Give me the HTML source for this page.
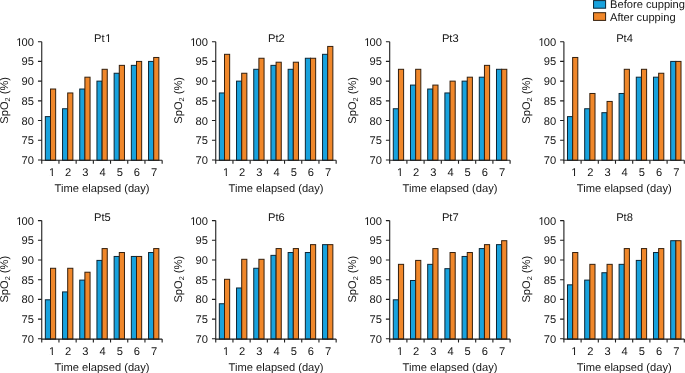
<!DOCTYPE html>
<html><head><meta charset="utf-8"><style>
html,body{margin:0;padding:0;background:#fff;}
body{width:685px;height:373px;overflow:hidden;}
svg{display:block;will-change:transform;filter:blur(0.3px);}
text{font-family:"Liberation Sans",sans-serif;font-size:11.15px;fill:#161616;text-rendering:geometricPrecision;}
</style></head><body>
<svg width="685" height="373" viewBox="0 0 685 373">
<rect x="45.34" y="116.62" width="5.16" height="43.68" fill="#18a2dd" stroke="#0c2636" stroke-width="1"/>
<rect x="50.5" y="89.02" width="5.16" height="71.28" fill="#f0872a" stroke="#35200e" stroke-width="1"/>
<rect x="62.54" y="108.74" width="5.16" height="51.56" fill="#18a2dd" stroke="#0c2636" stroke-width="1"/>
<rect x="67.7" y="92.96" width="5.16" height="67.34" fill="#f0872a" stroke="#35200e" stroke-width="1"/>
<rect x="79.74" y="89.02" width="5.16" height="71.28" fill="#18a2dd" stroke="#0c2636" stroke-width="1"/>
<rect x="84.9" y="77.19" width="5.16" height="83.11" fill="#f0872a" stroke="#35200e" stroke-width="1"/>
<rect x="96.94" y="81.13" width="5.16" height="79.17" fill="#18a2dd" stroke="#0c2636" stroke-width="1"/>
<rect x="102.1" y="69.3" width="5.16" height="91" fill="#f0872a" stroke="#35200e" stroke-width="1"/>
<rect x="114.14" y="73.25" width="5.16" height="87.05" fill="#18a2dd" stroke="#0c2636" stroke-width="1"/>
<rect x="119.3" y="65.36" width="5.16" height="94.94" fill="#f0872a" stroke="#35200e" stroke-width="1"/>
<rect x="131.34" y="65.36" width="5.16" height="94.94" fill="#18a2dd" stroke="#0c2636" stroke-width="1"/>
<rect x="136.5" y="61.42" width="5.16" height="98.88" fill="#f0872a" stroke="#35200e" stroke-width="1"/>
<rect x="148.54" y="61.42" width="5.16" height="98.88" fill="#18a2dd" stroke="#0c2636" stroke-width="1"/>
<rect x="153.7" y="57.47" width="5.16" height="102.83" fill="#f0872a" stroke="#35200e" stroke-width="1"/>
<path d="M41.75 41.7V160.3H162.15" fill="none" stroke="#1e1e1e" stroke-width="1.1"/>
<text x="33.95" y="164" text-anchor="end">70</text>
<text x="33.95" y="144" text-anchor="end">75</text>
<text x="33.95" y="125" text-anchor="end">80</text>
<text x="33.95" y="105" text-anchor="end">85</text>
<text x="33.95" y="85" text-anchor="end">90</text>
<text x="33.95" y="65" text-anchor="end">95</text>
<text x="16.26 21.54 27.75" y="46">100</text>
<path d="M37.95 160H41.75M37.95 140.28H41.75M37.95 120.57H41.75M37.95 100.85H41.75M37.95 81.13H41.75M37.95 61.42H41.75M37.95 41.7H41.75M41.75 160.3V163.8M58.95 160.3V163.8M76.15 160.3V163.8M93.35 160.3V163.8M110.55 160.3V163.8M127.75 160.3V163.8M144.95 160.3V163.8M162.15 160.3V163.8" fill="none" stroke="#1e1e1e" stroke-width="1.1"/>
<text x="52.15" y="176" text-anchor="middle">1</text>
<text x="68.15" y="176" text-anchor="middle">2</text>
<text x="85.35" y="176" text-anchor="middle">3</text>
<text x="102.55" y="176" text-anchor="middle">4</text>
<text x="119.75" y="176" text-anchor="middle">5</text>
<text x="136.95" y="176" text-anchor="middle">6</text>
<text x="154.15" y="176" text-anchor="middle">7</text>
<text x="102.7" y="42" text-anchor="middle">Pt<tspan dx="0.7">1</tspan></text>
<text x="102.1" y="192" text-anchor="middle">Time elapsed (day)</text>
<text transform="translate(7.9 100.35) rotate(-90)" text-anchor="middle">SpO<tspan font-size="7.2" dy="2.4">2</tspan><tspan dy="-2.4"> (%)</tspan></text>
<rect x="219.34" y="92.96" width="5.16" height="67.34" fill="#18a2dd" stroke="#0c2636" stroke-width="1"/>
<rect x="224.5" y="54.32" width="5.16" height="105.98" fill="#f0872a" stroke="#35200e" stroke-width="1"/>
<rect x="236.54" y="81.13" width="5.16" height="79.17" fill="#18a2dd" stroke="#0c2636" stroke-width="1"/>
<rect x="241.7" y="73.25" width="5.16" height="87.05" fill="#f0872a" stroke="#35200e" stroke-width="1"/>
<rect x="253.74" y="69.3" width="5.16" height="91" fill="#18a2dd" stroke="#0c2636" stroke-width="1"/>
<rect x="258.9" y="58.26" width="5.16" height="102.04" fill="#f0872a" stroke="#35200e" stroke-width="1"/>
<rect x="270.94" y="65.36" width="5.16" height="94.94" fill="#18a2dd" stroke="#0c2636" stroke-width="1"/>
<rect x="276.1" y="62.21" width="5.16" height="98.09" fill="#f0872a" stroke="#35200e" stroke-width="1"/>
<rect x="288.14" y="69.3" width="5.16" height="91" fill="#18a2dd" stroke="#0c2636" stroke-width="1"/>
<rect x="293.3" y="62.21" width="5.16" height="98.09" fill="#f0872a" stroke="#35200e" stroke-width="1"/>
<rect x="305.34" y="58.26" width="5.16" height="102.04" fill="#18a2dd" stroke="#0c2636" stroke-width="1"/>
<rect x="310.5" y="58.26" width="5.16" height="102.04" fill="#f0872a" stroke="#35200e" stroke-width="1"/>
<rect x="322.54" y="54.32" width="5.16" height="105.98" fill="#18a2dd" stroke="#0c2636" stroke-width="1"/>
<rect x="327.7" y="46.43" width="5.16" height="113.87" fill="#f0872a" stroke="#35200e" stroke-width="1"/>
<path d="M215.75 41.7V160.3H336.15" fill="none" stroke="#1e1e1e" stroke-width="1.1"/>
<text x="207.95" y="164" text-anchor="end">70</text>
<text x="207.95" y="144" text-anchor="end">75</text>
<text x="207.95" y="125" text-anchor="end">80</text>
<text x="207.95" y="105" text-anchor="end">85</text>
<text x="207.95" y="85" text-anchor="end">90</text>
<text x="207.95" y="65" text-anchor="end">95</text>
<text x="190.26 195.54 201.75" y="46">100</text>
<path d="M211.95 160H215.75M211.95 140.28H215.75M211.95 120.57H215.75M211.95 100.85H215.75M211.95 81.13H215.75M211.95 61.42H215.75M211.95 41.7H215.75M215.75 160.3V163.8M232.95 160.3V163.8M250.15 160.3V163.8M267.35 160.3V163.8M284.55 160.3V163.8M301.75 160.3V163.8M318.95 160.3V163.8M336.15 160.3V163.8" fill="none" stroke="#1e1e1e" stroke-width="1.1"/>
<text x="226.15" y="176" text-anchor="middle">1</text>
<text x="242.15" y="176" text-anchor="middle">2</text>
<text x="259.35" y="176" text-anchor="middle">3</text>
<text x="276.55" y="176" text-anchor="middle">4</text>
<text x="293.75" y="176" text-anchor="middle">5</text>
<text x="310.95" y="176" text-anchor="middle">6</text>
<text x="328.15" y="176" text-anchor="middle">7</text>
<text x="276.35" y="42" text-anchor="middle">Pt2</text>
<text x="276.1" y="192" text-anchor="middle">Time elapsed (day)</text>
<text transform="translate(181.9 100.35) rotate(-90)" text-anchor="middle">SpO<tspan font-size="7.2" dy="2.4">2</tspan><tspan dy="-2.4"> (%)</tspan></text>
<rect x="393.29" y="108.74" width="5.16" height="51.56" fill="#18a2dd" stroke="#0c2636" stroke-width="1"/>
<rect x="398.45" y="69.3" width="5.16" height="91" fill="#f0872a" stroke="#35200e" stroke-width="1"/>
<rect x="410.49" y="85.08" width="5.16" height="75.22" fill="#18a2dd" stroke="#0c2636" stroke-width="1"/>
<rect x="415.65" y="69.3" width="5.16" height="91" fill="#f0872a" stroke="#35200e" stroke-width="1"/>
<rect x="427.69" y="89.02" width="5.16" height="71.28" fill="#18a2dd" stroke="#0c2636" stroke-width="1"/>
<rect x="432.85" y="85.08" width="5.16" height="75.22" fill="#f0872a" stroke="#35200e" stroke-width="1"/>
<rect x="444.89" y="92.96" width="5.16" height="67.34" fill="#18a2dd" stroke="#0c2636" stroke-width="1"/>
<rect x="450.05" y="81.13" width="5.16" height="79.17" fill="#f0872a" stroke="#35200e" stroke-width="1"/>
<rect x="462.09" y="81.13" width="5.16" height="79.17" fill="#18a2dd" stroke="#0c2636" stroke-width="1"/>
<rect x="467.25" y="77.19" width="5.16" height="83.11" fill="#f0872a" stroke="#35200e" stroke-width="1"/>
<rect x="479.29" y="77.19" width="5.16" height="83.11" fill="#18a2dd" stroke="#0c2636" stroke-width="1"/>
<rect x="484.45" y="65.36" width="5.16" height="94.94" fill="#f0872a" stroke="#35200e" stroke-width="1"/>
<rect x="496.49" y="69.3" width="5.16" height="91" fill="#18a2dd" stroke="#0c2636" stroke-width="1"/>
<rect x="501.65" y="69.3" width="5.16" height="91" fill="#f0872a" stroke="#35200e" stroke-width="1"/>
<path d="M389.7 41.7V160.3H510.1" fill="none" stroke="#1e1e1e" stroke-width="1.1"/>
<text x="381.9" y="164" text-anchor="end">70</text>
<text x="381.9" y="144" text-anchor="end">75</text>
<text x="381.9" y="125" text-anchor="end">80</text>
<text x="381.9" y="105" text-anchor="end">85</text>
<text x="381.9" y="85" text-anchor="end">90</text>
<text x="381.9" y="65" text-anchor="end">95</text>
<text x="364.21 369.49 375.7" y="46">100</text>
<path d="M385.9 160H389.7M385.9 140.28H389.7M385.9 120.57H389.7M385.9 100.85H389.7M385.9 81.13H389.7M385.9 61.42H389.7M385.9 41.7H389.7M389.7 160.3V163.8M406.9 160.3V163.8M424.1 160.3V163.8M441.3 160.3V163.8M458.5 160.3V163.8M475.7 160.3V163.8M492.9 160.3V163.8M510.1 160.3V163.8" fill="none" stroke="#1e1e1e" stroke-width="1.1"/>
<text x="400.1" y="176" text-anchor="middle">1</text>
<text x="416.1" y="176" text-anchor="middle">2</text>
<text x="433.3" y="176" text-anchor="middle">3</text>
<text x="450.5" y="176" text-anchor="middle">4</text>
<text x="467.7" y="176" text-anchor="middle">5</text>
<text x="484.9" y="176" text-anchor="middle">6</text>
<text x="502.1" y="176" text-anchor="middle">7</text>
<text x="450.3" y="42" text-anchor="middle">Pt3</text>
<text x="450.05" y="192" text-anchor="middle">Time elapsed (day)</text>
<text transform="translate(355.9 100.35) rotate(-90)" text-anchor="middle">SpO<tspan font-size="7.2" dy="2.4">2</tspan><tspan dy="-2.4"> (%)</tspan></text>
<rect x="567.49" y="116.62" width="5.16" height="43.68" fill="#18a2dd" stroke="#0c2636" stroke-width="1"/>
<rect x="572.65" y="57.47" width="5.16" height="102.83" fill="#f0872a" stroke="#35200e" stroke-width="1"/>
<rect x="584.69" y="108.74" width="5.16" height="51.56" fill="#18a2dd" stroke="#0c2636" stroke-width="1"/>
<rect x="589.85" y="93.48" width="5.16" height="66.82" fill="#f0872a" stroke="#35200e" stroke-width="1"/>
<rect x="601.89" y="112.68" width="5.16" height="47.62" fill="#18a2dd" stroke="#0c2636" stroke-width="1"/>
<rect x="607.05" y="101.44" width="5.16" height="58.86" fill="#f0872a" stroke="#35200e" stroke-width="1"/>
<rect x="619.09" y="93.48" width="5.16" height="66.82" fill="#18a2dd" stroke="#0c2636" stroke-width="1"/>
<rect x="624.25" y="69.3" width="5.16" height="91" fill="#f0872a" stroke="#35200e" stroke-width="1"/>
<rect x="636.29" y="77.19" width="5.16" height="83.11" fill="#18a2dd" stroke="#0c2636" stroke-width="1"/>
<rect x="641.45" y="69.3" width="5.16" height="91" fill="#f0872a" stroke="#35200e" stroke-width="1"/>
<rect x="653.49" y="77.19" width="5.16" height="83.11" fill="#18a2dd" stroke="#0c2636" stroke-width="1"/>
<rect x="658.65" y="73.25" width="5.16" height="87.05" fill="#f0872a" stroke="#35200e" stroke-width="1"/>
<rect x="670.69" y="61.42" width="5.16" height="98.88" fill="#18a2dd" stroke="#0c2636" stroke-width="1"/>
<rect x="675.85" y="61.42" width="5.16" height="98.88" fill="#f0872a" stroke="#35200e" stroke-width="1"/>
<path d="M563.9 41.7V160.3H684.3" fill="none" stroke="#1e1e1e" stroke-width="1.1"/>
<text x="556.1" y="164" text-anchor="end">70</text>
<text x="556.1" y="144" text-anchor="end">75</text>
<text x="556.1" y="125" text-anchor="end">80</text>
<text x="556.1" y="105" text-anchor="end">85</text>
<text x="556.1" y="85" text-anchor="end">90</text>
<text x="556.1" y="65" text-anchor="end">95</text>
<text x="538.41 543.69 549.9" y="46">100</text>
<path d="M560.1 160H563.9M560.1 140.28H563.9M560.1 120.57H563.9M560.1 100.85H563.9M560.1 81.13H563.9M560.1 61.42H563.9M560.1 41.7H563.9M563.9 160.3V163.8M581.1 160.3V163.8M598.3 160.3V163.8M615.5 160.3V163.8M632.7 160.3V163.8M649.9 160.3V163.8M667.1 160.3V163.8M684.3 160.3V163.8" fill="none" stroke="#1e1e1e" stroke-width="1.1"/>
<text x="574.3" y="176" text-anchor="middle">1</text>
<text x="590.3" y="176" text-anchor="middle">2</text>
<text x="607.5" y="176" text-anchor="middle">3</text>
<text x="624.7" y="176" text-anchor="middle">4</text>
<text x="641.9" y="176" text-anchor="middle">5</text>
<text x="659.1" y="176" text-anchor="middle">6</text>
<text x="676.3" y="176" text-anchor="middle">7</text>
<text x="624.5" y="42" text-anchor="middle">Pt4</text>
<text x="624.25" y="192" text-anchor="middle">Time elapsed (day)</text>
<text transform="translate(529.9 100.35) rotate(-90)" text-anchor="middle">SpO<tspan font-size="7.2" dy="2.4">2</tspan><tspan dy="-2.4"> (%)</tspan></text>
<rect x="45.34" y="299.8" width="5.16" height="39.3" fill="#18a2dd" stroke="#0c2636" stroke-width="1"/>
<rect x="50.5" y="268.28" width="5.16" height="70.82" fill="#f0872a" stroke="#35200e" stroke-width="1"/>
<rect x="62.54" y="291.92" width="5.16" height="47.18" fill="#18a2dd" stroke="#0c2636" stroke-width="1"/>
<rect x="67.7" y="268.28" width="5.16" height="70.82" fill="#f0872a" stroke="#35200e" stroke-width="1"/>
<rect x="79.74" y="280.1" width="5.16" height="59" fill="#18a2dd" stroke="#0c2636" stroke-width="1"/>
<rect x="84.9" y="272.22" width="5.16" height="66.88" fill="#f0872a" stroke="#35200e" stroke-width="1"/>
<rect x="96.94" y="260.4" width="5.16" height="78.7" fill="#18a2dd" stroke="#0c2636" stroke-width="1"/>
<rect x="102.1" y="248.58" width="5.16" height="90.52" fill="#f0872a" stroke="#35200e" stroke-width="1"/>
<rect x="114.14" y="256.46" width="5.16" height="82.64" fill="#18a2dd" stroke="#0c2636" stroke-width="1"/>
<rect x="119.3" y="252.52" width="5.16" height="86.58" fill="#f0872a" stroke="#35200e" stroke-width="1"/>
<rect x="131.34" y="256.46" width="5.16" height="82.64" fill="#18a2dd" stroke="#0c2636" stroke-width="1"/>
<rect x="136.5" y="256.46" width="5.16" height="82.64" fill="#f0872a" stroke="#35200e" stroke-width="1"/>
<rect x="148.54" y="252.52" width="5.16" height="86.58" fill="#18a2dd" stroke="#0c2636" stroke-width="1"/>
<rect x="153.7" y="248.58" width="5.16" height="90.52" fill="#f0872a" stroke="#35200e" stroke-width="1"/>
<path d="M41.75 220.6V339.1H162.15" fill="none" stroke="#1e1e1e" stroke-width="1.1"/>
<text x="33.95" y="343" text-anchor="end">70</text>
<text x="33.95" y="323" text-anchor="end">75</text>
<text x="33.95" y="303" text-anchor="end">80</text>
<text x="33.95" y="284" text-anchor="end">85</text>
<text x="33.95" y="264" text-anchor="end">90</text>
<text x="33.95" y="244" text-anchor="end">95</text>
<text x="16.26 21.54 27.75" y="225">100</text>
<path d="M37.95 338.8H41.75M37.95 319.1H41.75M37.95 299.4H41.75M37.95 279.7H41.75M37.95 260H41.75M37.95 240.3H41.75M37.95 220.6H41.75M41.75 339.1V342.6M58.95 339.1V342.6M76.15 339.1V342.6M93.35 339.1V342.6M110.55 339.1V342.6M127.75 339.1V342.6M144.95 339.1V342.6M162.15 339.1V342.6" fill="none" stroke="#1e1e1e" stroke-width="1.1"/>
<text x="52.15" y="355" text-anchor="middle">1</text>
<text x="68.15" y="355" text-anchor="middle">2</text>
<text x="85.35" y="355" text-anchor="middle">3</text>
<text x="102.55" y="355" text-anchor="middle">4</text>
<text x="119.75" y="355" text-anchor="middle">5</text>
<text x="136.95" y="355" text-anchor="middle">6</text>
<text x="154.15" y="355" text-anchor="middle">7</text>
<text x="102.35" y="221" text-anchor="middle">Pt5</text>
<text x="102.1" y="371" text-anchor="middle">Time elapsed (day)</text>
<text transform="translate(7.9 279.2) rotate(-90)" text-anchor="middle">SpO<tspan font-size="7.2" dy="2.4">2</tspan><tspan dy="-2.4"> (%)</tspan></text>
<rect x="219.34" y="303.74" width="5.16" height="35.36" fill="#18a2dd" stroke="#0c2636" stroke-width="1"/>
<rect x="224.5" y="279.31" width="5.16" height="59.79" fill="#f0872a" stroke="#35200e" stroke-width="1"/>
<rect x="236.54" y="287.98" width="5.16" height="51.12" fill="#18a2dd" stroke="#0c2636" stroke-width="1"/>
<rect x="241.7" y="259.3" width="5.16" height="79.8" fill="#f0872a" stroke="#35200e" stroke-width="1"/>
<rect x="253.74" y="268.28" width="5.16" height="70.82" fill="#18a2dd" stroke="#0c2636" stroke-width="1"/>
<rect x="258.9" y="259.3" width="5.16" height="79.8" fill="#f0872a" stroke="#35200e" stroke-width="1"/>
<rect x="270.94" y="255.36" width="5.16" height="83.74" fill="#18a2dd" stroke="#0c2636" stroke-width="1"/>
<rect x="276.1" y="248.58" width="5.16" height="90.52" fill="#f0872a" stroke="#35200e" stroke-width="1"/>
<rect x="288.14" y="252.52" width="5.16" height="86.58" fill="#18a2dd" stroke="#0c2636" stroke-width="1"/>
<rect x="293.3" y="248.58" width="5.16" height="90.52" fill="#f0872a" stroke="#35200e" stroke-width="1"/>
<rect x="305.34" y="252.52" width="5.16" height="86.58" fill="#18a2dd" stroke="#0c2636" stroke-width="1"/>
<rect x="310.5" y="244.64" width="5.16" height="94.46" fill="#f0872a" stroke="#35200e" stroke-width="1"/>
<rect x="322.54" y="244.64" width="5.16" height="94.46" fill="#18a2dd" stroke="#0c2636" stroke-width="1"/>
<rect x="327.7" y="244.64" width="5.16" height="94.46" fill="#f0872a" stroke="#35200e" stroke-width="1"/>
<path d="M215.75 220.6V339.1H336.15" fill="none" stroke="#1e1e1e" stroke-width="1.1"/>
<text x="207.95" y="343" text-anchor="end">70</text>
<text x="207.95" y="323" text-anchor="end">75</text>
<text x="207.95" y="303" text-anchor="end">80</text>
<text x="207.95" y="284" text-anchor="end">85</text>
<text x="207.95" y="264" text-anchor="end">90</text>
<text x="207.95" y="244" text-anchor="end">95</text>
<text x="190.26 195.54 201.75" y="225">100</text>
<path d="M211.95 338.8H215.75M211.95 319.1H215.75M211.95 299.4H215.75M211.95 279.7H215.75M211.95 260H215.75M211.95 240.3H215.75M211.95 220.6H215.75M215.75 339.1V342.6M232.95 339.1V342.6M250.15 339.1V342.6M267.35 339.1V342.6M284.55 339.1V342.6M301.75 339.1V342.6M318.95 339.1V342.6M336.15 339.1V342.6" fill="none" stroke="#1e1e1e" stroke-width="1.1"/>
<text x="226.15" y="355" text-anchor="middle">1</text>
<text x="242.15" y="355" text-anchor="middle">2</text>
<text x="259.35" y="355" text-anchor="middle">3</text>
<text x="276.55" y="355" text-anchor="middle">4</text>
<text x="293.75" y="355" text-anchor="middle">5</text>
<text x="310.95" y="355" text-anchor="middle">6</text>
<text x="328.15" y="355" text-anchor="middle">7</text>
<text x="276.35" y="221" text-anchor="middle">Pt6</text>
<text x="276.1" y="371" text-anchor="middle">Time elapsed (day)</text>
<text transform="translate(181.9 279.2) rotate(-90)" text-anchor="middle">SpO<tspan font-size="7.2" dy="2.4">2</tspan><tspan dy="-2.4"> (%)</tspan></text>
<rect x="393.29" y="299.8" width="5.16" height="39.3" fill="#18a2dd" stroke="#0c2636" stroke-width="1"/>
<rect x="398.45" y="264.34" width="5.16" height="74.76" fill="#f0872a" stroke="#35200e" stroke-width="1"/>
<rect x="410.49" y="280.49" width="5.16" height="58.61" fill="#18a2dd" stroke="#0c2636" stroke-width="1"/>
<rect x="415.65" y="260.4" width="5.16" height="78.7" fill="#f0872a" stroke="#35200e" stroke-width="1"/>
<rect x="427.69" y="264.34" width="5.16" height="74.76" fill="#18a2dd" stroke="#0c2636" stroke-width="1"/>
<rect x="432.85" y="248.58" width="5.16" height="90.52" fill="#f0872a" stroke="#35200e" stroke-width="1"/>
<rect x="444.89" y="268.67" width="5.16" height="70.43" fill="#18a2dd" stroke="#0c2636" stroke-width="1"/>
<rect x="450.05" y="252.52" width="5.16" height="86.58" fill="#f0872a" stroke="#35200e" stroke-width="1"/>
<rect x="462.09" y="256.46" width="5.16" height="82.64" fill="#18a2dd" stroke="#0c2636" stroke-width="1"/>
<rect x="467.25" y="252.52" width="5.16" height="86.58" fill="#f0872a" stroke="#35200e" stroke-width="1"/>
<rect x="479.29" y="248.58" width="5.16" height="90.52" fill="#18a2dd" stroke="#0c2636" stroke-width="1"/>
<rect x="484.45" y="244.64" width="5.16" height="94.46" fill="#f0872a" stroke="#35200e" stroke-width="1"/>
<rect x="496.49" y="244.64" width="5.16" height="94.46" fill="#18a2dd" stroke="#0c2636" stroke-width="1"/>
<rect x="501.65" y="240.7" width="5.16" height="98.4" fill="#f0872a" stroke="#35200e" stroke-width="1"/>
<path d="M389.7 220.6V339.1H510.1" fill="none" stroke="#1e1e1e" stroke-width="1.1"/>
<text x="381.9" y="343" text-anchor="end">70</text>
<text x="381.9" y="323" text-anchor="end">75</text>
<text x="381.9" y="303" text-anchor="end">80</text>
<text x="381.9" y="284" text-anchor="end">85</text>
<text x="381.9" y="264" text-anchor="end">90</text>
<text x="381.9" y="244" text-anchor="end">95</text>
<text x="364.21 369.49 375.7" y="225">100</text>
<path d="M385.9 338.8H389.7M385.9 319.1H389.7M385.9 299.4H389.7M385.9 279.7H389.7M385.9 260H389.7M385.9 240.3H389.7M385.9 220.6H389.7M389.7 339.1V342.6M406.9 339.1V342.6M424.1 339.1V342.6M441.3 339.1V342.6M458.5 339.1V342.6M475.7 339.1V342.6M492.9 339.1V342.6M510.1 339.1V342.6" fill="none" stroke="#1e1e1e" stroke-width="1.1"/>
<text x="400.1" y="355" text-anchor="middle">1</text>
<text x="416.1" y="355" text-anchor="middle">2</text>
<text x="433.3" y="355" text-anchor="middle">3</text>
<text x="450.5" y="355" text-anchor="middle">4</text>
<text x="467.7" y="355" text-anchor="middle">5</text>
<text x="484.9" y="355" text-anchor="middle">6</text>
<text x="502.1" y="355" text-anchor="middle">7</text>
<text x="450.3" y="221" text-anchor="middle">Pt7</text>
<text x="450.05" y="371" text-anchor="middle">Time elapsed (day)</text>
<text transform="translate(355.9 279.2) rotate(-90)" text-anchor="middle">SpO<tspan font-size="7.2" dy="2.4">2</tspan><tspan dy="-2.4"> (%)</tspan></text>
<rect x="567.49" y="284.83" width="5.16" height="54.27" fill="#18a2dd" stroke="#0c2636" stroke-width="1"/>
<rect x="572.65" y="252.52" width="5.16" height="86.58" fill="#f0872a" stroke="#35200e" stroke-width="1"/>
<rect x="584.69" y="280.1" width="5.16" height="59" fill="#18a2dd" stroke="#0c2636" stroke-width="1"/>
<rect x="589.85" y="264.34" width="5.16" height="74.76" fill="#f0872a" stroke="#35200e" stroke-width="1"/>
<rect x="601.89" y="272.73" width="5.16" height="66.37" fill="#18a2dd" stroke="#0c2636" stroke-width="1"/>
<rect x="607.05" y="264.34" width="5.16" height="74.76" fill="#f0872a" stroke="#35200e" stroke-width="1"/>
<rect x="619.09" y="264.34" width="5.16" height="74.76" fill="#18a2dd" stroke="#0c2636" stroke-width="1"/>
<rect x="624.25" y="248.58" width="5.16" height="90.52" fill="#f0872a" stroke="#35200e" stroke-width="1"/>
<rect x="636.29" y="260.4" width="5.16" height="78.7" fill="#18a2dd" stroke="#0c2636" stroke-width="1"/>
<rect x="641.45" y="248.58" width="5.16" height="90.52" fill="#f0872a" stroke="#35200e" stroke-width="1"/>
<rect x="653.49" y="252.52" width="5.16" height="86.58" fill="#18a2dd" stroke="#0c2636" stroke-width="1"/>
<rect x="658.65" y="248.58" width="5.16" height="90.52" fill="#f0872a" stroke="#35200e" stroke-width="1"/>
<rect x="670.69" y="240.7" width="5.16" height="98.4" fill="#18a2dd" stroke="#0c2636" stroke-width="1"/>
<rect x="675.85" y="240.7" width="5.16" height="98.4" fill="#f0872a" stroke="#35200e" stroke-width="1"/>
<path d="M563.9 220.6V339.1H684.3" fill="none" stroke="#1e1e1e" stroke-width="1.1"/>
<text x="556.1" y="343" text-anchor="end">70</text>
<text x="556.1" y="323" text-anchor="end">75</text>
<text x="556.1" y="303" text-anchor="end">80</text>
<text x="556.1" y="284" text-anchor="end">85</text>
<text x="556.1" y="264" text-anchor="end">90</text>
<text x="556.1" y="244" text-anchor="end">95</text>
<text x="538.41 543.69 549.9" y="225">100</text>
<path d="M560.1 338.8H563.9M560.1 319.1H563.9M560.1 299.4H563.9M560.1 279.7H563.9M560.1 260H563.9M560.1 240.3H563.9M560.1 220.6H563.9M563.9 339.1V342.6M581.1 339.1V342.6M598.3 339.1V342.6M615.5 339.1V342.6M632.7 339.1V342.6M649.9 339.1V342.6M667.1 339.1V342.6M684.3 339.1V342.6" fill="none" stroke="#1e1e1e" stroke-width="1.1"/>
<text x="574.3" y="355" text-anchor="middle">1</text>
<text x="590.3" y="355" text-anchor="middle">2</text>
<text x="607.5" y="355" text-anchor="middle">3</text>
<text x="624.7" y="355" text-anchor="middle">4</text>
<text x="641.9" y="355" text-anchor="middle">5</text>
<text x="659.1" y="355" text-anchor="middle">6</text>
<text x="676.3" y="355" text-anchor="middle">7</text>
<text x="624.5" y="221" text-anchor="middle">Pt8</text>
<text x="624.25" y="371" text-anchor="middle">Time elapsed (day)</text>
<text transform="translate(529.9 279.2) rotate(-90)" text-anchor="middle">SpO<tspan font-size="7.2" dy="2.4">2</tspan><tspan dy="-2.4"> (%)</tspan></text>
<rect x="593.55" y="0.6" width="12.05" height="7.6" fill="#18a2dd" stroke="#0c2636" stroke-width="1"/>
<rect x="593.55" y="12.7" width="12.05" height="7.7" fill="#f0872a" stroke="#35200e" stroke-width="1"/>
<text x="610" y="7.9">Before cupping</text>
<text x="610" y="20.6">After cupping</text>
<g fill="#fff"><rect x="16.46" y="44.9" width="2.55" height="1.6"/><rect x="20.12" y="44.9" width="2.45" height="1.6"/><rect x="49.25" y="174.9" width="2.55" height="1.6"/><rect x="52.91" y="174.9" width="2.45" height="1.6"/><rect x="105.4" y="40.9" width="2.55" height="1.6"/><rect x="109.06" y="40.9" width="2.45" height="1.6"/><rect x="190.46" y="44.9" width="2.55" height="1.6"/><rect x="194.12" y="44.9" width="2.45" height="1.6"/><rect x="223.25" y="174.9" width="2.55" height="1.6"/><rect x="226.91" y="174.9" width="2.45" height="1.6"/><rect x="364.41" y="44.9" width="2.55" height="1.6"/><rect x="368.07" y="44.9" width="2.45" height="1.6"/><rect x="397.2" y="174.9" width="2.55" height="1.6"/><rect x="400.86" y="174.9" width="2.45" height="1.6"/><rect x="538.61" y="44.9" width="2.55" height="1.6"/><rect x="542.27" y="44.9" width="2.45" height="1.6"/><rect x="571.4" y="174.9" width="2.55" height="1.6"/><rect x="575.06" y="174.9" width="2.45" height="1.6"/><rect x="16.46" y="223.9" width="2.55" height="1.6"/><rect x="20.12" y="223.9" width="2.45" height="1.6"/><rect x="49.25" y="353.9" width="2.55" height="1.6"/><rect x="52.91" y="353.9" width="2.45" height="1.6"/><rect x="190.46" y="223.9" width="2.55" height="1.6"/><rect x="194.12" y="223.9" width="2.45" height="1.6"/><rect x="223.25" y="353.9" width="2.55" height="1.6"/><rect x="226.91" y="353.9" width="2.45" height="1.6"/><rect x="364.41" y="223.9" width="2.55" height="1.6"/><rect x="368.07" y="223.9" width="2.45" height="1.6"/><rect x="397.2" y="353.9" width="2.55" height="1.6"/><rect x="400.86" y="353.9" width="2.45" height="1.6"/><rect x="538.61" y="223.9" width="2.55" height="1.6"/><rect x="542.27" y="223.9" width="2.45" height="1.6"/><rect x="571.4" y="353.9" width="2.55" height="1.6"/><rect x="575.06" y="353.9" width="2.45" height="1.6"/></g>
</svg>
</body></html>
